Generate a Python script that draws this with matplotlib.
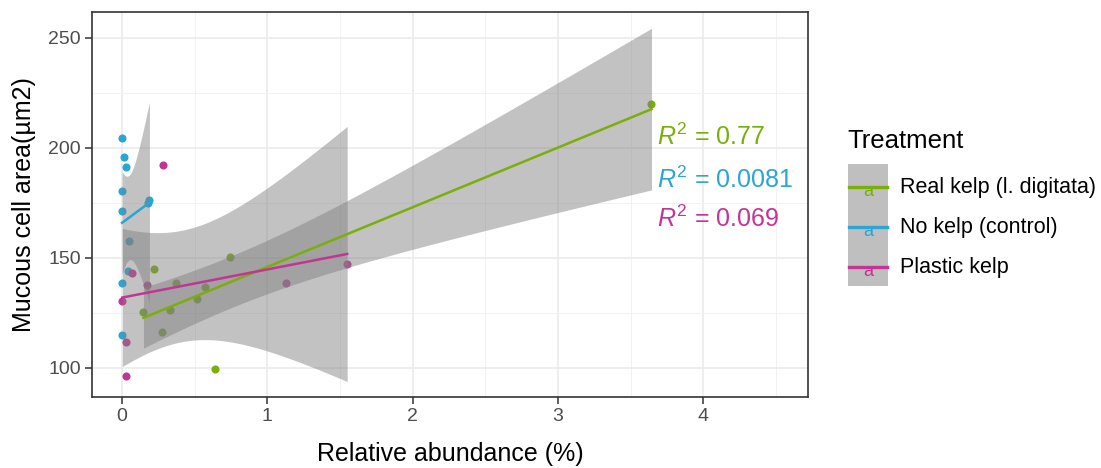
import numpy as np
import matplotlib
matplotlib.use("Agg")
import matplotlib.pyplot as plt
from matplotlib.patches import Rectangle
from matplotlib.lines import Line2D

plt.rcParams['font.family'] = ['Liberation Sans', 'DejaVu Sans']
plt.rcParams['mathtext.fontset'] = 'custom'
plt.rcParams['mathtext.rm'] = 'Liberation Sans'
plt.rcParams['mathtext.it'] = 'Liberation Sans:italic'

# ---- data ----
treatments = ["Real kelp (l. digitata)", "No kelp (control)", "Plastic kelp"]
colors = ["#7AAF0A", "#2BA5D4", "#C33595"]
r2_labels = ["0.77", "0.0081", "0.069"]

real_x = [0.147, 0.33, 0.273, 0.222, 0.369, 0.513, 0.57, 0.744, 0.637, 3.643]
real_y = [125.5, 126.2, 116.5, 144.9, 138.8, 131.2, 137.0, 150.5, 99.5, 220.0]

nokelp_x = [0.002, 0.014, 0.027, 0.002, 0.002, 0.05, 0.039, 0.0, 0.0, 0.188, 0.175]
nokelp_y = [204.5, 195.8, 191.5, 180.3, 171.4, 157.7, 144.1, 138.5, 115.1, 176.2, 175.0]

plastic_x = [0.284, 0.066, 0.174, 0.002, 0.027, 0.027, 1.125, 1.549]
plastic_y = [192.4, 143.3, 137.6, 130.3, 111.7, 96.5, 138.5, 147.3]

xs = [real_x, nokelp_x, plastic_x]
ys = [real_y, nokelp_y, plastic_y]

x_ticks = [0, 1, 2, 3, 4]
y_ticks = [100, 150, 200, 250]

T975 = {5: 2.571, 6: 2.447, 7: 2.365, 8: 2.306, 9: 2.262, 10: 2.228,
        11: 2.201, 12: 2.179, 13: 2.160, 14: 2.145, 15: 2.131}

W, H = 1101, 468
fig = plt.figure(figsize=(W / 100, H / 100), dpi=100)
ax = fig.add_axes([92 / W, 1 - 397 / H, (808 - 92) / W, (397 - 12) / H])

# points first (ribbons drawn over them, as in ggplot)
for x, y, c in zip(xs, ys, colors):
    ax.scatter(x, y, s=34, color=c, zorder=3, linewidths=0)

# regression lines + 95% CI ribbons
for x, y, c in zip(xs, ys, colors):
    x = np.asarray(x, float); y = np.asarray(y, float)
    n = len(x)
    b, a = np.polyfit(x, y, 1)
    resid = y - (a + b * x)
    s = np.sqrt(np.sum(resid ** 2) / (n - 2))
    xbar = x.mean(); sxx = np.sum((x - xbar) ** 2)
    g = np.linspace(x.min(), x.max(), 80)
    fit = a + b * g
    se = s * np.sqrt(1 / n + (g - xbar) ** 2 / sxx)
    t = T975.get(n - 2, 2.2)
    ax.fill_between(g, fit - t * se, fit + t * se, color="#808080", alpha=0.48,
                    linewidth=0, zorder=4)
    ax.plot(g, fit, color=c, lw=1.8, zorder=5)

# R^2 labels
r2_y = [205, 185.5, 167.7]
for lab, yy, c in zip(r2_labels, r2_y, colors):
    ax.text(3.68, yy, r"$R^2$" + " = " + lab, color=c, fontsize=18,
            va="center", ha="left", zorder=6)

ax.set_xlim(-0.207, 4.72)
ax.set_ylim(86.8, 261.8)
ax.set_xticks(x_ticks)
ax.set_yticks(y_ticks)
ax.set_xticks([0.5, 1.5, 2.5, 3.5, 4.5], minor=True)
ax.set_yticks([125, 175, 225], minor=True)
ax.grid(which="major", color="#EBEBEB", lw=1.2, zorder=0)
ax.grid(which="minor", color="#F2F2F2", lw=0.7, zorder=0)
ax.set_axisbelow(True)
for sp in ax.spines.values():
    sp.set_color("#333333"); sp.set_linewidth(1.2)
ax.tick_params(which="major", length=5, color="#333333", labelsize=14,
               labelcolor="#4D4D4D", width=1.1, pad=3)
ax.tick_params(which="minor", length=0)
ax.set_xlabel("Relative abundance (%)", fontsize=18, labelpad=12)
ax.set_ylabel("Mucous cell area(µm2)", fontsize=18, labelpad=9)

# legend (manual, ggplot style keys)
lax = fig.add_axes([0, 0, 1, 1], facecolor="none")
lax.set_xlim(0, W); lax.set_ylim(H, 0); lax.axis("off")
lax.text(847, 141, "Treatment", fontsize=18.5, va="center", ha="left")
lax.add_patch(Rectangle((848, 164), 40, 122, facecolor="#BFBFBF", edgecolor="none"))
for i, (lab, c) in enumerate(zip(treatments, colors)):
    yc = 188 + 40 * i
    lax.add_line(Line2D([849, 887], [yc - 1, yc - 1], color=c, lw=2.4))
    lax.text(868, yc + 3, "a", color=c, fontsize=13, ha="center", va="center")
    lax.text(900, yc, lab, fontsize=15.5, va="center", ha="left")

fig.savefig("out.png", dpi=100)
